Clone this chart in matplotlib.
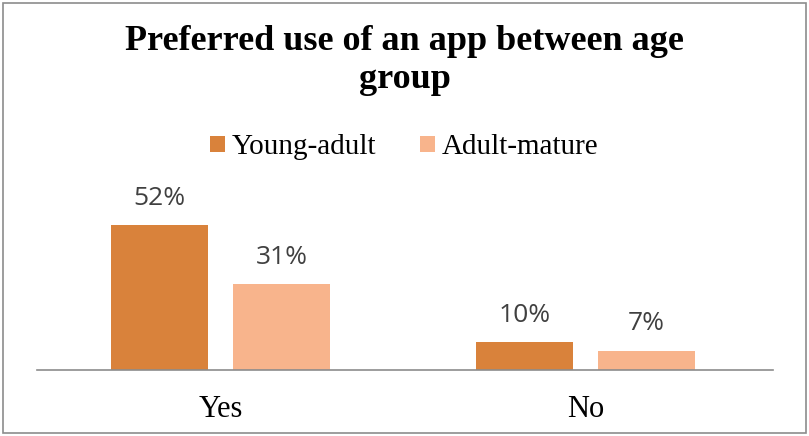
import numpy as np
import matplotlib
matplotlib.use("Agg")
import matplotlib.pyplot as plt
import matplotlib.patches as patch

# data
categories = ["Yes", "No"]
series_names = ["Young-adult", "Adult-mature"]
young_adult = [52, 10]
adult_mature = [31, 7]
colors = ["#D9823B", "#F8B48C"]

fig = plt.figure(figsize=(8.09, 4.36), dpi=100)
ax = fig.add_axes([0.0457, 0.1514, 0.9098, 0.3826])

# outer chart border
fig.patches.append(patch.Rectangle((0.004, 0.006), 0.992, 0.988, transform=fig.transFigure,
                                   fill=False, edgecolor="#8c8c8c", linewidth=1.2))

x = np.arange(len(categories))
w = 0.266
off = (w + 0.068) / 2
b1 = ax.bar(x - off, young_adult, w, color=colors[0], label=series_names[0])
b2 = ax.bar(x + off, adult_mature, w, color=colors[1], label=series_names[1])

# value labels above bars
for bars, vals in [(b1, young_adult), (b2, adult_mature)]:
    for r, v in zip(bars, vals):
        ax.annotate(f"{v}%", (r.get_x() + r.get_width() / 2, v), xytext=(0, 14.5),
                    textcoords="offset points", ha="center", va="baseline",
                    fontsize=19, family="Open Sans", color="#404040")

ax.set_xlim(-0.503, 1.514)
ax.set_ylim(0, 60)
ax.set_yticks([])
ax.set_xticks(x)
ax.set_xticklabels(categories, family="Liberation Serif", fontsize=22)
ax.tick_params(axis="x", length=0, pad=18)
for s in ["top", "left", "right"]:
    ax.spines[s].set_visible(False)
ax.spines["bottom"].set_color("#8c8c8c")
ax.spines["bottom"].set_linewidth(1.2)

fig.text(0.5, 0.862, "Preferred use of an app between age\ngroup", ha="center", va="center",
         family="Liberation Serif", fontweight="bold", fontsize=26, linespacing=1.2)

fig.legend(handles=[b1, b2], labels=series_names, loc="center", bbox_to_anchor=(0.5, 0.662),
           ncol=2, frameon=False, prop={"family": "Liberation Serif", "size": 21},
           handlelength=0.5, handleheight=0.5, handletextpad=0.25, columnspacing=1.5,
           borderpad=0)

fig.savefig("out.png", dpi=100)
